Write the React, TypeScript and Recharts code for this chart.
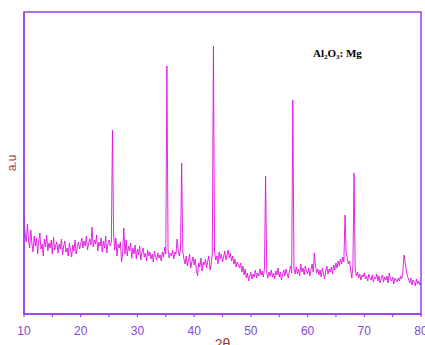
import { Line, LineChart, ReferenceArea, XAxis, YAxis } from "recharts";

// 2θ grid: 10° to 80° in 0.2° steps, one row = 2°
const START = 10;
const STEP = 0.2;

// intensity (a.u.)
const counts = [
  97, 80, 72, 90, 74, 66, 84, 70, 62, 78,
  68, 76, 60, 73, 81, 65, 70, 58, 75, 67,
  79, 63, 71, 66, 74, 60, 77, 64, 69, 72,
  61, 70, 65, 75, 59, 68, 73, 62, 66, 58,
  71, 64, 57, 69, 63, 74, 60, 67, 72, 65,
  70, 76, 66, 73, 68, 78, 64, 71, 75, 69,
  87, 67, 74, 70, 79, 63, 72, 68, 76, 62,
  73, 66, 78, 61, 70, 74, 68, 72, 184, 80,
  64, 76, 58, 70, 66, 72, 52, 62, 86, 60,
  74, 58, 68, 63, 71, 56, 66, 60, 69, 55,
  65, 59, 68, 54, 62, 66, 57, 61, 53, 64,
  58, 62, 55, 60, 52, 63, 57, 54, 61, 56,
  59, 53, 62, 57, 67, 60, 248, 64, 56, 61,
  58, 64, 55, 62, 60, 75, 63, 58, 66, 151,
  62, 55, 50, 58, 48, 54, 60, 46, 52, 57,
  49, 55, 44, 38, 51, 47, 56, 43, 52, 49,
  55, 46, 53, 58, 44, 50, 60, 268, 62, 54,
  58, 50, 62, 55, 60, 52, 57, 63, 54, 59,
  64, 56, 61, 53, 58, 50, 55, 47, 52, 49,
  46, 51, 42, 48, 39, 45, 36, 41, 33, 38,
  42, 35, 40, 37, 44, 36, 41, 38, 45, 39,
  43, 37, 46, 138, 41, 36, 42, 38, 44, 37,
  41, 35, 43, 39, 46, 37, 42, 34, 40, 44,
  38, 45, 40, 36, 43, 48, 41, 214, 46, 40,
  47, 40, 45, 38, 50, 42, 46, 39, 48, 43,
  40, 46, 38, 44, 50, 42, 61, 48, 41, 45,
  39, 44, 37, 46, 41, 35, 43, 48, 40, 45,
  42, 47, 40, 49, 44, 51, 46, 53, 48, 55,
  50, 57, 52, 99, 62, 56, 50, 53, 44, 36,
  48, 141, 45, 38, 42, 36, 40, 34, 39, 37,
  41, 35, 38, 33, 40, 36, 34, 39, 32, 37,
  35, 40, 33, 38, 31, 36, 39, 32, 37, 34,
  38, 31, 41, 35, 33, 37, 30, 36, 34, 32,
  36, 33, 38, 35, 42, 59, 52, 44, 38, 35,
  31, 36, 29, 34, 32, 28, 35, 30, 33, 29,
  31,
];

const xTicks = [10, 15, 20, 25, 30, 35, 40, 45, 50, 55, 60, 65, 70, 75, 80];

const FRAME = "#9a3cf0";
const TICK_TEXT = "#8844dd";
const TRACE = "#e010e0";
const AXIS_LABEL = "#9a3a34";

const data = counts.map((v, i) => ({
  angle: +(START + i * STEP).toFixed(1),
  v,
}));

function AngleTick(props: any) {
  const { x, y, payload } = props;
  if (payload.value % 10 !== 0) return <g />;
  return (
    <text
      x={x}
      y={y + 16}
      textAnchor="middle"
      fill={TICK_TEXT}
      fontSize={12}
      fontFamily="Liberation Sans, Arial, sans-serif"
    >
      {payload.value}
    </text>
  );
}

export default function App() {
  return (
    <div
      style={{
        position: "fixed",
        left: 0,
        top: 0,
        width: 425,
        height: 345,
        overflow: "hidden",
        background: "#fff",
      }}
    >
      <LineChart
        width={425}
        height={345}
        data={data}
        margin={{ top: 12, right: 4, left: 0, bottom: 0 }}
      >
        <XAxis
          type="number"
          dataKey="angle"
          domain={[10, 80]}
          ticks={xTicks}
          interval={0}
          height={31}
          tickSize={3}
          tick={<AngleTick />}
          axisLine={{ stroke: FRAME, strokeWidth: 1.5 }}
          tickLine={{ stroke: FRAME, strokeWidth: 1.2 }}
          label={{
            value: "2θ",
            position: "insideBottom",
            offset: -4,
            fill: AXIS_LABEL,
            fontSize: 14,
            fontFamily: "Liberation Sans, Arial, sans-serif",
          }}
        />
        <YAxis
          type="number"
          domain={[0, 302]}
          width={24}
          tick={false}
          tickLine={false}
          axisLine={{ stroke: FRAME, strokeWidth: 1.5 }}
          label={{
            value: "a.u",
            angle: -90,
            position: "center",
            fill: AXIS_LABEL,
            fontSize: 12,
            fontFamily: "Liberation Sans, Arial, sans-serif",
          }}
        />
        <ReferenceArea
          x1={10}
          x2={80}
          y1={0}
          y2={302}
          fill="none"
          stroke={FRAME}
          strokeWidth={1.5}
          fillOpacity={0}
        />
        <Line
          type="linear"
          dataKey="v"
          stroke={TRACE}
          strokeWidth={0.9}
          dot={false}
          isAnimationActive={false}
        />
      </LineChart>
      <div
        style={{
          position: "absolute",
          left: 313,
          top: 47,
          fontFamily: "Liberation Serif, Times New Roman, serif",
          fontWeight: "bold",
          fontSize: 11,
          lineHeight: "12px",
          color: "#000",
          whiteSpace: "nowrap",
        }}
      >
        Al
        <span style={{ fontSize: 7, position: "relative", top: 2 }}>2</span>O
        <span style={{ fontSize: 7, position: "relative", top: 2 }}>3</span>: Mg
      </div>
    </div>
  );
}
